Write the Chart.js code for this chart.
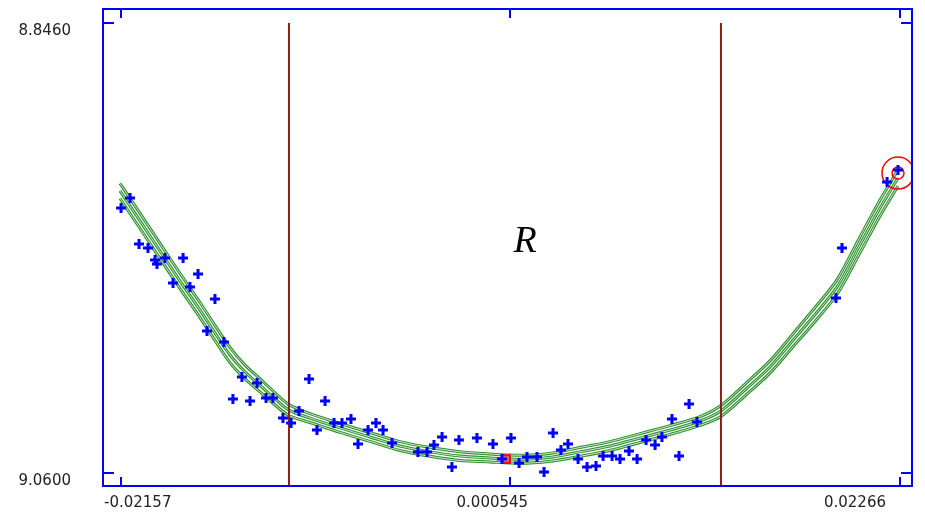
<!DOCTYPE html>
<html>
<head>
<meta charset="UTF-8">
<title>R</title>
<script src="https://cdn.jsdelivr.net/npm/chart.js@4.4.1/dist/chart.umd.min.js"></script>
<style>
	body { margin: 0; background: #fff; }
</style>
</head>
<body>

	<canvas id="myChart" width="925" height="516"></canvas>

	<script>
		// tick values and their labels
		const xTicks = [-0.02157, 0.000545, 0.02266];
		const xTickLabels = ['-0.02157', '0.000545', '0.02266'];
		const yTicks = [8.8460, 9.0600];
		const yTickLabels = ['8.8460', '9.0600'];

		// fitted curve and its band (half width)
		const fitX = [-0.02161, -0.02047, -0.01934, -0.01820, -0.01707, -0.01622, -0.01537, -0.01451, -0.01349, -0.01281,
			-0.01202, -0.01083, -0.00912, -0.00742, -0.00572, -0.00401, -0.00231, -0.00061, 0.00053, 0.00166,
			0.00297, 0.00450, 0.00620, 0.00791, 0.00961, 0.01131, 0.01250, 0.01387, 0.01528, 0.01670,
			0.01772, 0.01909, 0.02039, 0.02153, 0.02255];
		const fitY = [8.9259, 8.9402, 8.9545, 8.9688, 8.9826, 8.9935, 9.0040, 9.0121, 9.0197, 9.0249,
			9.0302, 9.0340, 9.0387, 9.0430, 9.0473, 9.0501, 9.0521, 9.0530, 9.0535, 9.0535,
			9.0525, 9.0501, 9.0473, 9.0435, 9.0397, 9.0354, 9.0306, 9.0206, 9.0097, 8.9959,
			8.9859, 8.9716, 8.9516, 8.9340, 8.9198];
		const band = [0.0036, 0.0036, 0.0036, 0.0036, 0.0036, 0.0036, 0.0036, 0.0033, 0.0031, 0.0029,
			0.0026, 0.0021, 0.0021, 0.0021, 0.0021, 0.0021, 0.0021, 0.0019, 0.0019, 0.0019,
			0.0019, 0.0021, 0.0021, 0.0021, 0.0021, 0.0021, 0.0026, 0.0028, 0.0029, 0.0031,
			0.0033, 0.0035, 0.0038, 0.0038, 0.0038];

		// measured points
		const ptsX = [-0.02155, -0.02104, -0.02053, -0.02002, -0.01962, -0.01951, -0.01906, -0.01803, -0.01718, -0.01860,
			-0.01764, -0.01667, -0.01622, -0.01571, -0.01520, -0.01469, -0.01423, -0.01383, -0.01332, -0.01293,
			-0.01236, -0.01190, -0.01145, -0.01088, -0.01043, -0.00997, -0.00946, -0.00901, -0.00850, -0.00810,
			-0.00753, -0.00708, -0.00668, -0.00617, -0.00470, -0.00418, -0.00379, -0.00333, -0.00277, -0.00237,
			-0.00135, -0.00044, 0.00058, 0.00007, 0.00104, 0.00149, 0.00206, 0.00246, 0.00297, 0.00342,
			0.00382, 0.00439, 0.00490, 0.00541, 0.00581, 0.00632, 0.00677, 0.00728, 0.00774, 0.00825,
			0.00876, 0.00915, 0.00972, 0.01012, 0.01069, 0.01114, 0.01903, 0.01937, 0.02193, 0.02255];
		const ptsY = [8.9340, 8.9293, 8.9512, 8.9531, 8.9588, 8.9607, 8.9578, 8.9578, 8.9654, 8.9697,
			8.9716, 8.9926, 8.9773, 8.9978, 9.0249, 9.0145, 9.0259, 9.0173, 9.0245, 9.0245,
			9.0340, 9.0363, 9.0306, 9.0154, 9.0397, 9.0259, 9.0363, 9.0363, 9.0344, 9.0463,
			9.0397, 9.0363, 9.0397, 9.0459, 9.0501, 9.0501, 9.0468, 9.0430, 9.0573, 9.0444,
			9.0435, 9.0463, 9.0435, 9.0535, 9.0554, 9.0525, 9.0525, 9.0597, 9.0411, 9.0492,
			9.0463, 9.0535, 9.0573, 9.0568, 9.0521, 9.0521, 9.0535, 9.0497, 9.0535, 9.0444,
			9.0468, 9.0430, 9.0344, 9.0521, 9.0273, 9.0359, 8.9769, 8.9531, 8.9217, 8.9160];

		// marked point at the minimum, circled point at the end
		const minMarkX = [0.00030];
		const minMarkY = [9.0535];
		const endMarkX = [0.02255, 0.02255];
		const endMarkY = [8.9174, 8.9174];

		// the two vertical limits
		const limitX = [-0.01202, 0.01250];

		// label "R"
		const labelText = 'R';
		const labelX = 0.00138;
		const labelY = 8.9500;
	</script>

	<script>
		const xMin = -0.0225747, xMax = 0.023344;
		const yMin = 8.83934, yMax = 9.06633;

		function xy(xs, ys) {
			return xs.map(function(x, i) { return {x: x, y: ys[i]}; });
		}

		let upper = fitY.map(function(v, i) { return v - band[i]; });
		let lower = fitY.map(function(v, i) { return v + band[i]; });
		let curves = [upper, fitY, lower];

		let datasets = [];

		datasets.push({
			data: xy(ptsX, ptsY), showLine: false, order: 0,
			pointStyle: 'cross', pointRadius: 5, pointBorderWidth: 3,
			pointBorderColor: '#0000ff', pointBackgroundColor: '#0000ff'
		});
		datasets.push({
			data: xy(minMarkX, minMarkY), showLine: false, order: 0,
			pointStyle: 'rect', pointRadius: 5.5, pointBorderWidth: 2,
			pointBorderColor: '#ff0000', pointBackgroundColor: 'rgba(255,60,60,0.6)'
		});
		datasets.push({
			data: xy(endMarkX, endMarkY), showLine: false, order: 0,
			pointStyle: 'circle', pointRadius: [16, 6], pointBorderWidth: 1.5,
			pointBorderColor: '#ff0000', pointBackgroundColor: 'rgba(0,0,0,0)'
		});

		limitX.forEach(function(x) {
			datasets.push({
				data: [{x: x, y: yTicks[0]}, {x: x, y: yMax}], order: 1,
				borderColor: '#8b1c1c', borderWidth: 2, pointRadius: 0
			});
		});

		curves.forEach(function(c) {
			datasets.push({
				data: xy(fitX, c), order: 2,
				borderColor: '#c8e8c8', borderWidth: 1, pointRadius: 0, tension: 0.3
			});
			datasets.push({
				data: xy(fitX, c), order: 3,
				borderColor: '#2e8f2e', borderWidth: 3, pointRadius: 0, tension: 0.3
			});
		});

		const framePlugin = {
			id: 'frame',
			afterDatasetsDraw: function(chart) {
				let ctx = chart.ctx;
				let a = chart.chartArea;
				let sx = chart.scales.x, sy = chart.scales.y;
				ctx.save();

				// R label
				ctx.fillStyle = '#000';
				ctx.font = 'italic 38px "Liberation Serif"';
				ctx.textAlign = 'center';
				ctx.textBaseline = 'middle';
				ctx.fillText(labelText, sx.getPixelForValue(labelX), sy.getPixelForValue(labelY));

				// blue frame + inward ticks
				ctx.strokeStyle = '#0000ff';
				ctx.lineWidth = 2;
				ctx.strokeRect(a.left, a.top, a.right - a.left, a.bottom - a.top);
				ctx.beginPath();
				yTicks.forEach(function(v) {
					let p = Math.round(sy.getPixelForValue(v));
					ctx.moveTo(a.left, p); ctx.lineTo(a.left + 11, p);
					ctx.moveTo(a.right, p); ctx.lineTo(a.right - 11, p);
				});
				xTicks.forEach(function(v) {
					let p = Math.round(sx.getPixelForValue(v));
					ctx.moveTo(p, a.bottom); ctx.lineTo(p, a.bottom - 9);
					ctx.moveTo(p, a.top); ctx.lineTo(p, a.top + 9);
				});
				ctx.stroke();

				// tick labels
				ctx.fillStyle = '#222';
				ctx.font = '15px "DejaVu Sans"';
				ctx.textAlign = 'right';
				yTicks.forEach(function(v, i) {
					ctx.fillText(yTickLabels[i], 71, sy.getPixelForValue(v) + 8);
				});
				let shift = [17, -18, -45];
				ctx.textAlign = 'center';
				xTicks.forEach(function(v, i) {
					ctx.fillText(xTickLabels[i], sx.getPixelForValue(v) + shift[i], 503);
				});
				ctx.restore();
			}
		};

		new Chart("myChart", {
			type: "line",
			data: { datasets: datasets },
			options: {
				responsive: false,
				animation: false,
				layout: { autoPadding: false, padding: { left: 103, right: 13, top: 9, bottom: 30 } },
				plugins: { legend: { display: false }, tooltip: { enabled: false } },
				scales: {
					x: { type: 'linear', min: xMin, max: xMax, display: false },
					y: { type: 'linear', min: yMin, max: yMax, reverse: true, display: false }
				}
			},
			plugins: [framePlugin]
		});
	</script>
</body>
</html>
